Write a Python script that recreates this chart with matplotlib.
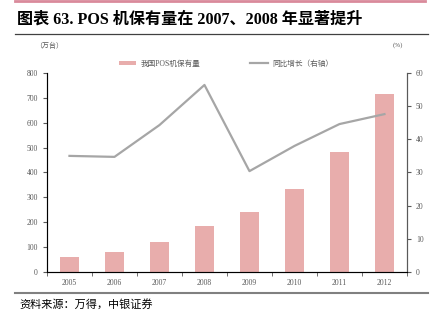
import numpy as np
import matplotlib.pyplot as plt

plt.rcParams['font.family'] = ['Liberation Serif', 'Noto Sans CJK SC', 'DejaVu Sans']

years = ['2005', '2006', '2007', '2008', '2009', '2010', '2011', '2012']
pos_count = [60, 80, 120, 185, 241, 334, 483, 715]
yoy_growth = [35.0, 34.7, 44.3, 56.4, 30.4, 38.0, 44.6, 47.6]

bar_color = '#e8adac'
line_color = '#a6a6a6'
axis_color = '#595959'
text_color = '#595959'

fig = plt.figure(figsize=(4.39, 3.26), dpi=100)

# header / footer decorations
fig.add_artist(plt.Line2D([0.034, 0.968], [0.997, 0.997], color='#d98a9b', lw=2))
fig.text(0.039, 0.939, '图表 63. POS 机保有量在 2007、2008 年显著提升',
         fontsize=11.6, fontweight='bold', va='center', ha='left', color='black')
fig.add_artist(plt.Line2D([0.034, 0.975], [0.895, 0.895], color='#404040', lw=0.9))
fig.add_artist(plt.Line2D([0.034, 0.975], [0.101, 0.101], color='#808080', lw=1.5))
fig.text(0.044, 0.068, '资料来源：万得，中银证券', fontsize=8,
         va='center', ha='left', color='black')

ax = fig.add_axes([0.107, 0.166, 0.82, 0.61])
x = np.arange(len(years))
ax.bar(x, pos_count, width=0.42, color=bar_color, label='我国POS机保有量', zorder=2)
ax.set_ylim(0, 800)
ax.set_yticks(range(0, 801, 100))
ax.set_xlim(-0.5, len(years) - 0.5)
ax.set_xticks(x)
ax.set_xticklabels(years)
ax.set_xticks(np.arange(-0.5, len(years), 1), minor=True)
ax.tick_params(axis='x', which='major', length=0, labelsize=5.5, colors=text_color, pad=5)
ax.tick_params(axis='x', which='minor', length=3, direction='out', color=axis_color)
ax.tick_params(axis='y', length=3, labelsize=5.5, colors=text_color, direction='out')
ax.spines['top'].set_visible(False)
for s in ['left', 'bottom', 'right']:
    ax.spines[s].set_color(axis_color)
    ax.spines[s].set_linewidth(0.8)

ax2 = ax.twinx()
ax2.plot(x, yoy_growth, color=line_color, lw=1.6, label='同比增长（右轴）', zorder=3)
ax2.set_ylim(0, 60)
ax2.set_yticks(range(0, 61, 10))
ax2.tick_params(axis='y', length=3, labelsize=5.5, colors=text_color, direction='out')
ax2.spines['top'].set_visible(False)
ax2.spines['right'].set_color(axis_color)
ax2.spines['right'].set_linewidth(0.8)

fig.text(0.08, 0.86, '（万台）', fontsize=5, color=text_color, va='center', ha='left')
fig.text(0.895, 0.862, '(%)', fontsize=5, color=text_color, va='center', ha='left')

h1, l1 = ax.get_legend_handles_labels()
h2, l2 = ax2.get_legend_handles_labels()
fig.legend(h1 + h2, l1 + l2, loc='center', bbox_to_anchor=(0.515, 0.805), ncol=2,
           frameon=False, fontsize=5.5, handlelength=2.3, handleheight=0.5,
           handletextpad=0.6, columnspacing=6.5, labelcolor=text_color)

fig.savefig('out.png', dpi=100)
